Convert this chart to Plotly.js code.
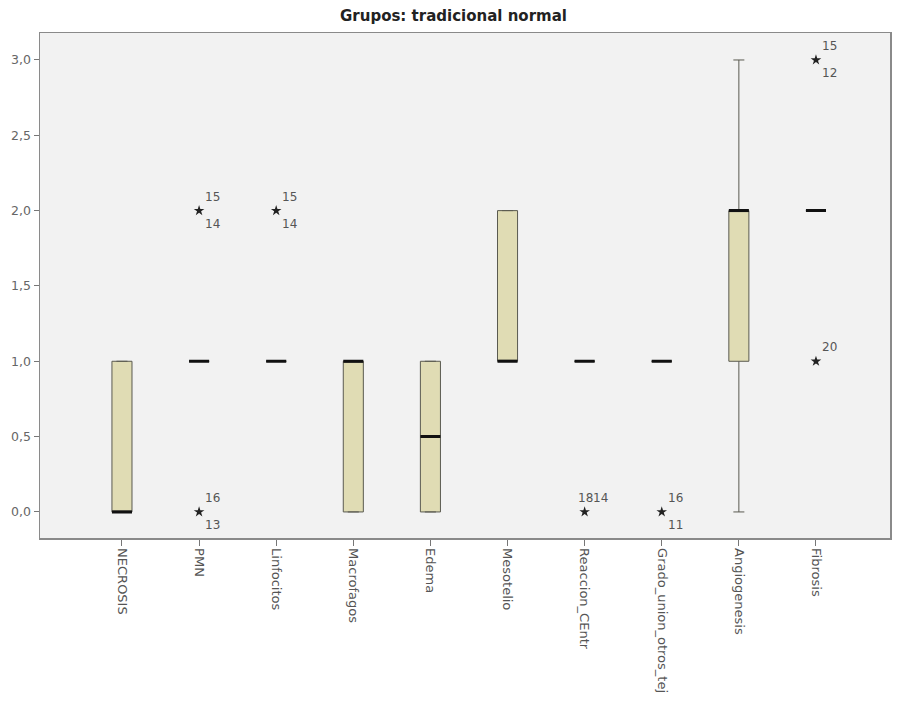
<!DOCTYPE html>
<html>
<head>
<meta charset="utf-8">
<script src="https://cdn.plot.ly/plotly-3.0.1.min.js"></script>
<style>html,body{margin:0;padding:0;background:#fff;}#chart{width:898px;height:711px;}</style>
</head>
<body>
<div id="chart"></div>
<script>
const categories = ['NECROSIS','PMN','Linfocitos','Macrofagos','Edema','Mesotelio','Reaccion_CEntr','Grado_union_otros_tej','Angiogenesis','Fibrosis'];
const q1Values     = [0, 1, 1, 0, 0,   1, 1, 1, 1, 2];
const medianValues = [0, 1, 1, 1, 0.5, 1, 1, 1, 2, 2];
const q3Values     = [1, 1, 1, 1, 1,   2, 1, 1, 2, 2];
const lowerFences  = [0, 1, 1, 0, 0,   1, 1, 1, 0, 2];
const upperFences  = [1, 1, 1, 1, 1,   2, 1, 1, 3, 2];

const outlierCats   = ['PMN','PMN','Linfocitos','Reaccion_CEntr','Grado_union_otros_tej','Fibrosis','Fibrosis'];
const outlierValues = [2, 0, 2, 0, 0, 3, 1];
const labelsAbove   = [['15'],['16'],['15'],['18','14'],['16'],['15'],['20']];
const labelsBelow   = [['14'],['13'],['14'],[],['11'],['12'],[]];

const tickVals = [0, 0.5, 1, 1.5, 2, 2.5, 3];

const boxTrace = {
  type: 'box', x: categories, q1: q1Values, median: medianValues, q3: q3Values,
  lowerfence: lowerFences, upperfence: upperFences,
  fillcolor: '#e0dcb4', line: {color: '#5a5a50', width: 1},
  whiskerwidth: 0.55, width: 0.26, boxpoints: false, hoverinfo: 'skip', showlegend: false
};
const medianTrace = {
  type: 'box', x: categories, q1: medianValues, median: medianValues, q3: medianValues,
  lowerfence: medianValues, upperfence: medianValues,
  fillcolor: 'rgba(0,0,0,0)', line: {color: '#111', width: 3},
  whiskerwidth: 0, width: 0.26, boxpoints: false, hoverinfo: 'skip', showlegend: false
};
const outlierTrace = {
  type: 'scatter', mode: 'markers', x: outlierCats, y: outlierValues,
  marker: {symbol: 'star', size: 8, color: '#222'}, hoverinfo: 'skip', showlegend: false
};

const labelFont = {family: 'DejaVu Sans, Liberation Sans', size: 12, color: '#555'};
const annotations = [];
outlierCats.forEach((c, i) => {
  const above = labelsAbove[i];
  above.forEach((t, j) => {
    annotations.push({x: c, y: outlierValues[i], text: t, showarrow: false, xanchor: 'left',
      xshift: above.length > 1 ? (-9 + j * 15) : 4, yshift: 14, font: labelFont});
  });
  labelsBelow[i].forEach((t) => {
    annotations.push({x: c, y: outlierValues[i], text: t, showarrow: false, xanchor: 'left',
      xshift: 4, yshift: -13, font: labelFont});
  });
});

const layout = {
  width: 898, height: 711,
  margin: {l: 40, r: 8, t: 33, b: 173},
  paper_bgcolor: '#ffffff', plot_bgcolor: '#f2f2f2',
  separators: ',.',
  title: {text: '<b>Grupos: tradicional normal</b>', x: 0.505, xanchor: 'center', y: 0.978, yanchor: 'middle',
    font: {family: 'DejaVu Sans, Liberation Sans', size: 15, color: '#222'}},
  xaxis: {type: 'category', categoryorder: 'array', categoryarray: categories,
    range: [-1.063, 9.96], showgrid: false, zeroline: false,
    showline: true, linecolor: '#8a8a8a', linewidth: 1.5, mirror: true,
    ticks: 'outside', ticklen: 6, tickcolor: '#777', tickangle: 90,
    tickfont: {family: 'DejaVu Sans, Liberation Sans', size: 13, color: '#555'}},
  yaxis: {range: [-0.173, 3.179], tickvals: tickVals, tickformat: '.1f',
    showgrid: false, zeroline: false,
    showline: true, linecolor: '#8a8a8a', linewidth: 1.5, mirror: true,
    ticks: 'outside', ticklen: 5, tickcolor: '#777',
    tickfont: {family: 'DejaVu Sans, Liberation Sans', size: 12.5, color: '#666'}},
  annotations: annotations,
  boxmode: 'overlay'
};

Plotly.newPlot('chart', [boxTrace, medianTrace, outlierTrace], layout, {displayModeBar: false, staticPlot: true});
</script>
</body>
</html>
